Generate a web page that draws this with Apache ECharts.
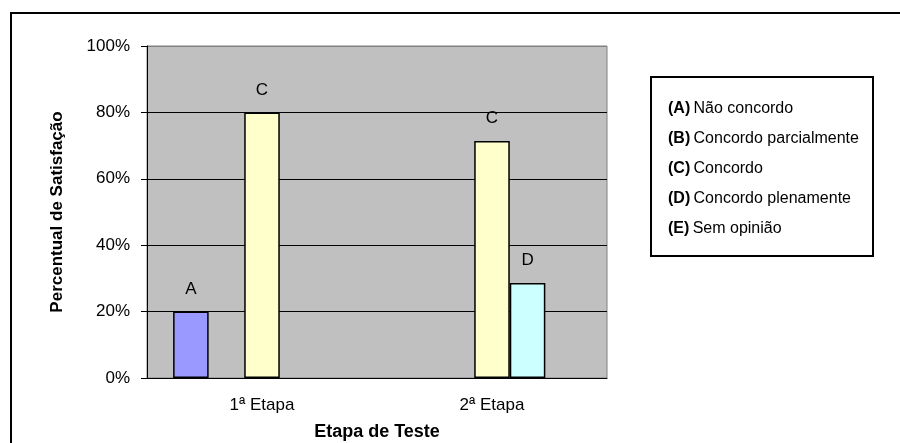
<!DOCTYPE html>
<html>
<head>
<meta charset="utf-8">
<script src="https://cdn.jsdelivr.net/npm/echarts@6/dist/echarts.min.js"></script>
<style>
  html, body { margin: 0; padding: 0; background: #fff; }
  #chart { width: 900px; height: 443px; }
</style>
</head>
<body>
<div id="chart"></div>
<script>
  // dados do gráfico
  const categories = ['1ª Etapa', '2ª Etapa'];
  const seriesKeys = ['A', 'B', 'C', 'D', 'E'];
  const seriesTexts = ['Não concordo', 'Concordo parcialmente', 'Concordo', 'Concordo plenamente', 'Sem opinião'];
  const seriesColors = ['#9999FF', '#993366', '#FFFFCC', '#CCFFFF', '#660066'];
  const valuesA = [20, null];
  const valuesB = [null, null];
  const valuesC = [80, 71.4];
  const valuesD = [null, 28.6];
  const valuesE = [null, null];
  const yTicks = [0, 20, 40, 60, 80, 100];

  const allValues = [valuesA, valuesB, valuesC, valuesD, valuesE];
  const font = 'Liberation Sans, Arial, sans-serif';

  const chart = echarts.init(document.getElementById('chart'));

  chart.setOption({
    animation: false,
    textStyle: { fontFamily: font },
    graphic: [
      {
        type: 'rect', z: -10, silent: true,
        shape: { x: 11, y: 13, width: 1000, height: 1000 },
        style: { fill: 'none', stroke: '#000', lineWidth: 2 }
      },
      {
        type: 'rect', z: 1, silent: true,
        shape: { x: 651, y: 77, width: 222, height: 179 },
        style: { fill: '#fff', stroke: '#000', lineWidth: 2 }
      }
    ],
    grid: {
      left: 147,
      top: 46,
      width: 460,
      height: 332,
      outerBoundsMode: 'none',
      show: true,
      backgroundColor: '#C0C0C0',
      borderColor: '#808080',
      borderWidth: 1
    },
    legend: {
      z: 5,
      orient: 'vertical',
      left: 658,
      top: 93,
      icon: 'none',
      itemWidth: 0,
      itemHeight: 20,
      itemGap: 8,
      selectedMode: false,
      data: seriesKeys,
      formatter: name => {
        const i = seriesKeys.indexOf(name);
        return '{b|(' + name + ')} {n|' + seriesTexts[i] + '}';
      },
      textStyle: {
        lineHeight: 22,
        rich: {
          b: { fontFamily: font, fontWeight: 'bold', fontSize: 16, color: '#000', lineHeight: 22 },
          n: { fontFamily: font, fontSize: 16, color: '#000', lineHeight: 22 }
        }
      }
    },
    xAxis: {
      type: 'category',
      data: categories,
      name: 'Etapa de Teste',
      nameLocation: 'middle',
      nameGap: 45,
      nameTextStyle: { fontSize: 18, fontWeight: 'bold', color: '#000' },
      axisLine: { lineStyle: { color: '#000', width: 1 } },
      axisTick: { length: 6, lineStyle: { color: '#000' } },
      axisLabel: { fontSize: 17, color: '#000', margin: 19 }
    },
    yAxis: {
      type: 'value',
      min: yTicks[0],
      max: yTicks[yTicks.length - 1],
      interval: yTicks[1] - yTicks[0],
      name: 'Percentual de Satisfação',
      nameLocation: 'middle',
      nameGap: 81,
      nameTextStyle: { fontSize: 17, fontWeight: 'bold', color: '#000' },
      axisLine: { show: true, lineStyle: { color: '#000', width: 1 } },
      axisTick: { show: true, length: 6, lineStyle: { color: '#000' } },
      axisLabel: { fontSize: 17, color: '#000', margin: 17, formatter: '{value}%' },
      splitLine: {
        lineStyle: { color: ['#000', '#000', '#000', '#000', '#000', '#808080'], width: 1 }
      }
    },
    series: seriesKeys.map((key, i) => ({
      name: key,
      type: 'bar',
      data: allValues[i],
      barGap: '0%',
      barCategoryGap: '22.7%',
      itemStyle: { color: seriesColors[i], borderColor: '#000', borderWidth: 1.5 },
      label: {
        show: true,
        position: 'top',
        distance: 14,
        fontSize: 17,
        color: '#000',
        formatter: p => p.seriesName
      }
    }))
  });
</script>
</body>
</html>
